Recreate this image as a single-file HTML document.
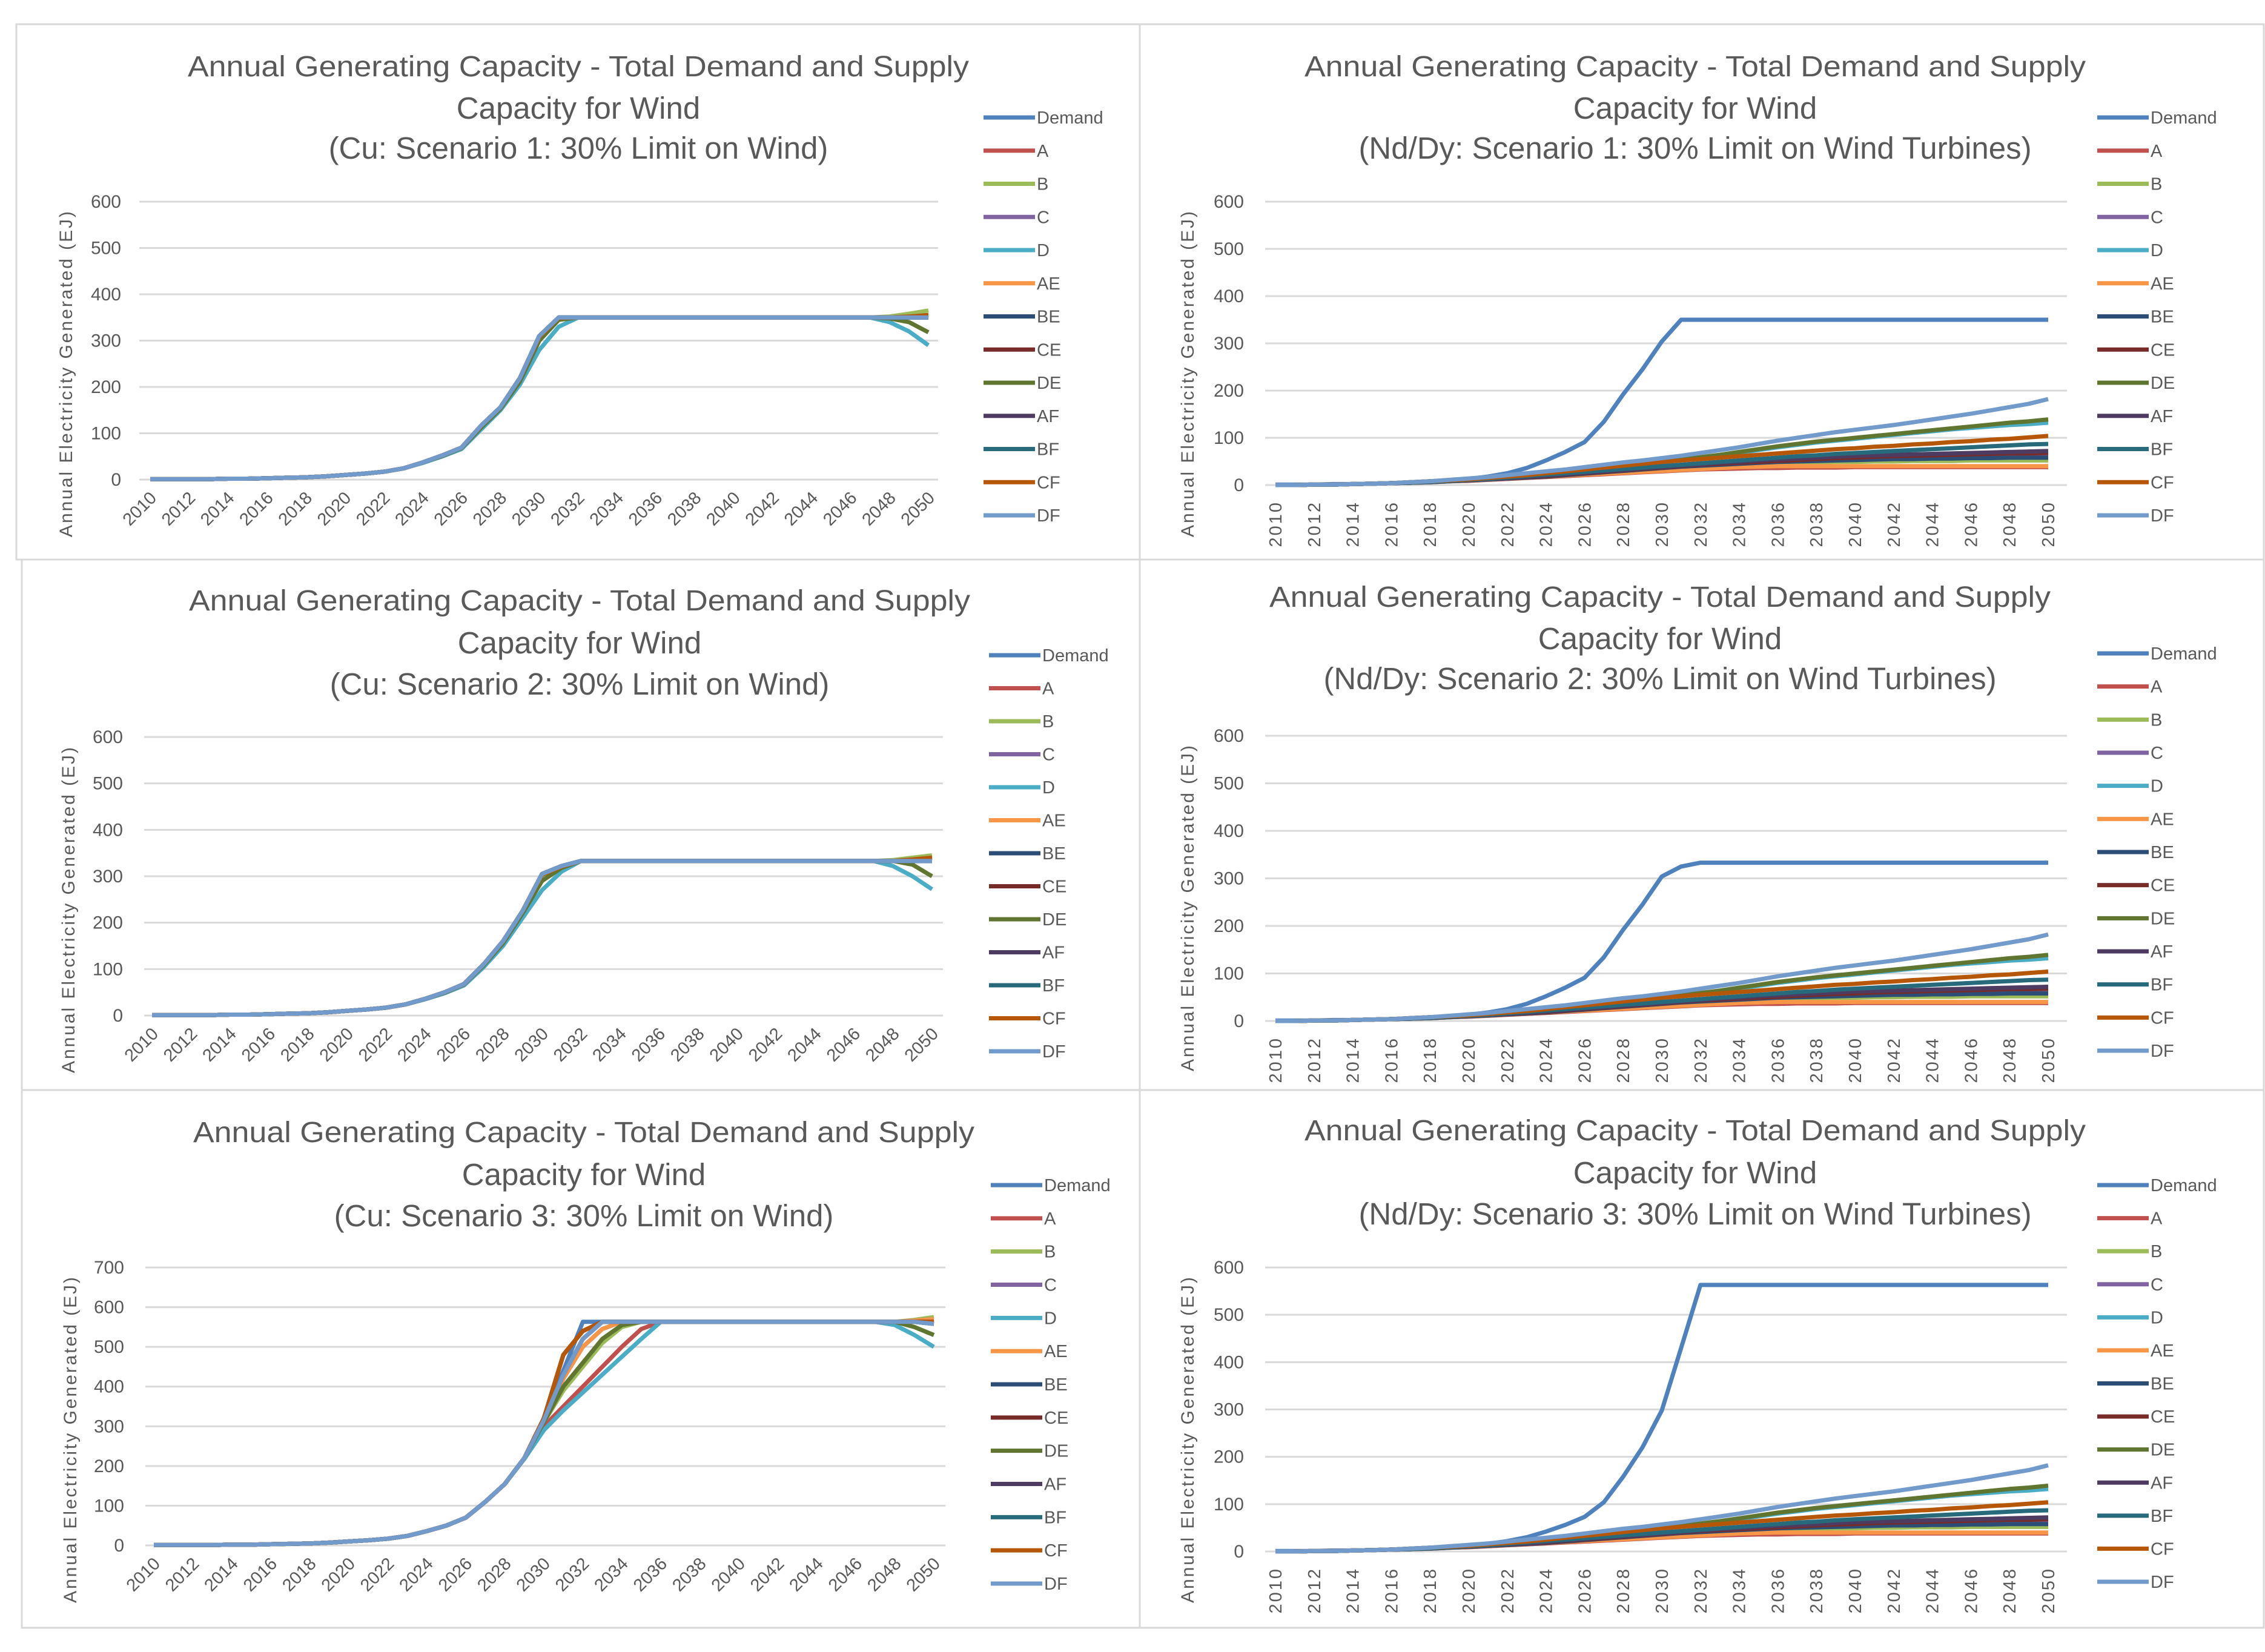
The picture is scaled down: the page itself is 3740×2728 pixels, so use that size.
<!DOCTYPE html>
<html><head><meta charset="utf-8">
<style>
html,body{margin:0;padding:0;background:#fff;}
svg{display:block;}
text{font-family:"Liberation Sans",sans-serif;fill:#595959;}
</style></head>
<body>
<svg id="root" xmlns="http://www.w3.org/2000/svg" width="3740" height="2728" viewBox="0 0 3740 2728"></svg>
<script>
// ---------- shared data ----------
const years = [];
for (let y = 2010; y <= 2050; y++) years.push(y);
const seriesNames = ["Demand","A","B","C","D","AE","BE","CE","DE","AF","BF","CF","DF"];
const seriesColors = ["#4F81BD","#C0504D","#9BBB59","#8064A2","#4BACC6","#F79646","#2C4D75","#772C2A","#5F7530","#4D3B62","#276A7C","#B65708","#729ACA"];

// ---- Cu scenario 1 (left top) ----
const cu1Demand = [1,1,1,1,2,2,3,4,5,7,10,13,17,24,37,52,69,116,156,219,310,350,350,350,350,350,350,350,350,350,350,350,350,350,350,350,350,350,350,350,350];
const cu1D  = [1,1,1,1,2,2,3,4,5,7,10,13,17,24,36,50,66,108,150,205,280,330,350,350,350,350,350,350,350,350,350,350,350,350,350,350,350,350,340,320,290];
const cu1DE = [1,1,1,1,2,2,3,4,5,7,10,13,17,24,37,51,68,112,153,212,300,345,350,350,350,350,350,350,350,350,350,350,350,350,350,350,350,350,348,340,318];
const cu1B  = [1,1,1,1,2,2,3,4,5,7,10,13,17,24,37,52,69,116,156,219,305,348,350,350,350,350,350,350,350,350,350,350,350,350,350,350,350,350,352,358,365];
const cu1CF = [1,1,1,1,2,2,3,4,5,7,10,13,17,24,37,52,69,116,156,219,308,349,350,350,350,350,350,350,350,350,350,350,350,350,350,350,350,350,350,352,355];

// ---- Cu scenario 2 (left middle) ----
const cu2Demand = [1,1,1,1,2,2,3,4,5,7,10,13,17,24,36,50,68,110,160,225,305,322,333,333,333,333,333,333,333,333,333,333,333,333,333,333,333,333,333,333,333];
const cu2D  = [1,1,1,1,2,2,3,4,5,7,10,13,17,24,35,48,65,104,150,210,270,310,333,333,333,333,333,333,333,333,333,333,333,333,333,333,333,333,322,300,272];
const cu2DE = [1,1,1,1,2,2,3,4,5,7,10,13,17,24,36,49,67,108,156,220,290,318,333,333,333,333,333,333,333,333,333,333,333,333,333,333,333,333,333,325,300];
const cu2B  = [1,1,1,1,2,2,3,4,5,7,10,13,17,24,36,50,68,110,160,225,300,320,333,333,333,333,333,333,333,333,333,333,333,333,333,333,333,333,335,340,345];
const cu2CF = [1,1,1,1,2,2,3,4,5,7,10,13,17,24,36,50,68,110,160,225,303,321,333,333,333,333,333,333,333,333,333,333,333,333,333,333,333,333,333,336,340];

// ---- Cu scenario 3 (left bottom) ----
const cu3Demand = [1,1,1,1,2,2,3,4,5,7,10,13,17,24,36,50,70,110,155,220,320,440,563,563,563,563,563,563,563,563,563,563,563,563,563,563,563,563,563,563,563];
const cu3A  = [1,1,1,1,2,2,3,4,5,7,10,13,17,24,36,50,70,110,155,220,300,350,400,450,500,545,563,563,563,563,563,563,563,563,563,563,563,563,563,563,563];
const cu3D  = [1,1,1,1,2,2,3,4,5,7,10,13,17,24,36,50,70,110,155,218,290,340,385,430,475,520,563,563,563,563,563,563,563,563,563,563,563,563,555,530,500];
const cu3DE = [1,1,1,1,2,2,3,4,5,7,10,13,17,24,36,50,70,110,155,220,310,400,460,520,555,563,563,563,563,563,563,563,563,563,563,563,563,563,563,550,530];
const cu3B  = [1,1,1,1,2,2,3,4,5,7,10,13,17,24,36,50,70,110,155,220,310,390,450,510,550,563,563,563,563,563,563,563,563,563,563,563,563,563,563,568,575];
const cu3C  = [1,1,1,1,2,2,3,4,5,7,10,13,17,24,36,50,70,110,155,220,315,420,500,545,563,563,563,563,563,563,563,563,563,563,563,563,563,563,563,566,570];
const cu3CF = [1,1,1,1,2,2,3,4,5,7,10,13,17,24,36,50,70,110,155,220,320,480,540,563,563,563,563,563,563,563,563,563,563,563,563,563,563,563,563,563,563];
const cu3DF = [1,1,1,1,2,2,3,4,5,7,10,13,17,24,36,50,70,110,155,220,315,430,520,563,563,563,563,563,563,563,563,563,563,563,563,563,563,563,563,563,558];

// ---- Nd/Dy demand (right panels) ----
const nd1Demand = [1,1,1,2,2,3,4,5,6,9,13,18,25,36,52,70,91,134,192,245,304,350,350,350,350,350,350,350,350,350,350,350,350,350,350,350,350,350,350,350,350];
const nd2Demand = [1,1,1,2,2,3,4,5,6,9,13,18,25,36,52,70,91,134,192,245,304,325,333,333,333,333,333,333,333,333,333,333,333,333,333,333,333,333,333,333,333];
const nd3Demand = [1,1,1,2,2,3,4,5,6,8,12,16,22,30,42,56,73,104,158,220,298,430,563,563,563,563,563,563,563,563,563,563,563,563,563,563,563,563,563,563,563];
// ---- Nd/Dy supply (shared by right panels) ----
const ndA  = [0,0,1,1,2,3,4,5,6,8,9,11,13,15,17,19,21,23,25,27,29,31,33,34,35,36,36,37,37,37,38,38,38,38,38,38,38,38,38,38,38];
const ndB  = [0,0,1,1,2,3,4,5,6,8,10,12,14,16,18,20,23,26,29,32,35,38,40,42,44,45,46,47,48,49,49,50,50,51,51,51,52,52,52,52,52];
const ndC  = [0,0,1,1,2,3,4,5,7,9,11,13,15,17,19,22,25,28,31,34,37,40,43,46,48,50,52,54,55,57,58,59,60,61,62,63,63,64,64,65,65];
const ndD  = [0,0,1,1,2,3,4,6,8,10,13,16,19,22,25,28,32,36,40,44,48,53,58,63,68,74,80,85,90,94,98,102,106,110,114,118,121,124,127,129,132];
const ndAE = [0,0,1,1,2,3,4,5,6,8,10,12,14,16,18,20,22,24,26,28,30,32,34,36,38,39,40,40,40,40,40,40,40,40,40,40,40,40,40,40,40];
const ndBE = [0,0,1,1,2,3,4,5,6,8,10,12,14,16,18,21,24,27,30,33,36,39,41,43,45,47,49,50,51,52,53,54,55,55,56,56,57,57,58,58,58];
const ndCE = [0,0,1,1,2,3,4,5,7,9,11,13,15,17,19,22,25,28,31,34,37,40,43,45,47,49,51,53,55,57,58,60,61,62,63,64,65,66,67,67,68];
const ndDE = [0,0,1,1,2,3,4,6,8,10,13,16,19,22,25,28,32,36,40,44,49,54,59,64,70,76,82,87,92,96,100,104,108,112,116,120,124,128,132,135,139];
const ndAF = [0,0,1,1,2,3,4,5,7,9,11,13,15,17,20,23,26,29,32,35,38,41,44,47,49,52,54,56,58,60,62,63,64,65,66,67,68,69,70,71,72];
const ndBF = [0,0,1,1,2,3,4,5,7,9,11,13,16,19,22,25,28,31,34,37,40,43,46,49,52,55,58,61,63,66,68,70,72,74,76,78,80,82,84,86,87];
const ndCF = [0,0,1,1,2,3,4,6,8,10,12,15,18,21,25,29,33,37,41,45,49,52,55,58,61,64,67,70,73,76,78,81,83,86,88,91,93,96,98,101,104];
const ndDF = [0,0,1,1,2,3,4,6,8,11,14,17,21,25,29,33,38,43,48,52,57,62,68,74,80,87,94,100,106,112,117,122,127,133,139,145,151,158,165,172,182];

const yTicks600 = [0,100,200,300,400,500,600];
const yTicks700 = [0,100,200,300,400,500,600,700];
const xTickYears = [2010,2012,2014,2016,2018,2020,2022,2024,2026,2028,2030,2032,2034,2036,2038,2040,2042,2044,2046,2048,2050];

const titleLine1 = "Annual Generating Capacity - Total Demand and Supply";
const titleLine2 = "Capacity for Wind";

const panels = [
 {name:"cu-scenario-1", box:[27,40,1885,924], plot:[230,1549], d0:248, d1:1533, yTop:333, yZero:792, yMax:600, ticks:yTicks600, tickR:200,
  title:"(Cu: Scenario 1: 30% Limit on Wind)", tcx:955, ty:[109,179,245], lx:1624, ly0:194, ly1:851, ytx:109, yty:618, rot:45,
  series:[cu1Demand,cu1CF,cu1B,cu1CF,cu1D,cu1Demand,cu1Demand,cu1Demand,cu1DE,cu1Demand,cu1Demand,cu1CF,cu1Demand]},
 {name:"nd-dy-scenario-1", box:[1882,40,3738,924], plot:[2089,3413], d0:2106, d1:3382, yTop:333, yZero:801, yMax:600, ticks:yTicks600, tickR:2054,
  title:"(Nd/Dy: Scenario 1: 30% Limit on Wind Turbines)", tcx:2799, ty:[109,179,245], lx:3463, ly0:194, ly1:851, ytx:1961, yty:618, rot:90,
  series:[nd1Demand,ndA,ndB,ndC,ndD,ndAE,ndBE,ndCE,ndDE,ndAF,ndBF,ndCF,ndDF]},
 {name:"cu-scenario-2", box:[36,924,1885,1801], plot:[238,1557], d0:251, d1:1539, yTop:1217, yZero:1677, yMax:600, ticks:yTicks600, tickR:203,
  title:"(Cu: Scenario 2: 30% Limit on Wind)", tcx:957, ty:[991,1062,1130], lx:1633, ly0:1082, ly1:1736, ytx:113, yty:1503, rot:45,
  series:[cu2Demand,cu2CF,cu2B,cu2CF,cu2D,cu2Demand,cu2Demand,cu2Demand,cu2DE,cu2Demand,cu2Demand,cu2CF,cu2Demand]},
 {name:"nd-dy-scenario-2", box:[1882,924,3738,1801], plot:[2089,3413], d0:2106, d1:3382, yTop:1215, yZero:1686, yMax:600, ticks:yTicks600, tickR:2054,
  title:"(Nd/Dy: Scenario 2: 30% Limit on Wind Turbines)", tcx:2741, ty:[985,1055,1121], lx:3463, ly0:1079, ly1:1735, ytx:1961, yty:1500, rot:90,
  series:[nd2Demand,ndA,ndB,ndC,ndD,ndAE,ndBE,ndCE,ndDE,ndAF,ndBF,ndCF,ndDF]},
 {name:"cu-scenario-3", box:[36,1800,1885,2688], plot:[240,1561], d0:254, d1:1542, yTop:2093, yZero:2552, yMax:700, ticks:yTicks700, tickR:205,
  title:"(Cu: Scenario 3: 30% Limit on Wind)", tcx:964, ty:[1869,1940,2008], lx:1636, ly0:1957, ly1:2615, ytx:116, yty:2378, rot:45,
  series:[cu3Demand,cu3A,cu3B,cu3C,cu3D,cu3C,cu3CF,cu3CF,cu3DE,cu3DF,cu3DF,cu3CF,cu3DF]},
 {name:"nd-dy-scenario-3", box:[1882,1800,3738,2688], plot:[2089,3413], d0:2106, d1:3382, yTop:2093, yZero:2562, yMax:600, ticks:yTicks600, tickR:2054,
  title:"(Nd/Dy: Scenario 3: 30% Limit on Wind Turbines)", tcx:2799, ty:[1866,1937,2005], lx:3463, ly0:1957, ly1:2612, ytx:1961, yty:2378, rot:90,
  series:[nd3Demand,ndA,ndB,ndC,ndD,ndAE,ndBE,ndCE,ndDE,ndAF,ndBF,ndCF,ndDF]}
];

const NS = "http://www.w3.org/2000/svg";
const root = document.getElementById("root");
function mk(tag, attrs, parent) {
  const e = document.createElementNS(NS, tag);
  for (const k in attrs) e.setAttribute(k, attrs[k]);
  parent.appendChild(e);
  return e;
}

panels.forEach(p => {
  const g = mk("g", {}, root);
  
  
  const xScale = yr => p.d0 + (yr - 2010) * (p.d1 - p.d0) / 40;
  const yScale = v => p.yZero - v * (p.yZero - p.yTop) / p.yMax;

  const border = mk("rect", {x:p.box[0], y:p.box[1], width:p.box[2]-p.box[0], height:p.box[3]-p.box[1], fill:"#fff", stroke:"#D9D9D9", "stroke-width":3}, g);
  
  

  const lines = [titleLine1, titleLine2, p.title];
  lines.forEach((t, i) => {
    const tx = mk("text", {x:p.tcx, y:p.ty[i] + 17, "text-anchor":"middle", "font-size": i === 0 ? 48 : 51}, g);
    if (i === 0) { tx.setAttribute("textLength", 1290); tx.setAttribute("lengthAdjust", "spacingAndGlyphs"); }
    tx.textContent = t;
    
    
  });

  p.ticks.forEach(v => {
    const ln = mk("line", {x1:p.plot[0], x2:p.plot[1], y1:yScale(v), y2:yScale(v), stroke:"#D9D9D9", "stroke-width":3}, g);
    
    
    const tl = mk("text", {x:p.tickR, y:yScale(v) + 10, "text-anchor":"end", "font-size":30}, g);
    tl.textContent = v;
    
    
  });

  xTickYears.forEach(yr => {
    const x = xScale(yr);
    let tl;
    if (p.rot === 45) {
      const ax = x + 12, ay = p.yZero + 32;
      tl = mk("text", {x:ax, y:ay, "text-anchor":"end", "font-size":29, transform:`rotate(-45 ${ax} ${ay})`}, g);
    } else {
      const ax = x + 10, ay = p.yZero + 26;
      tl = mk("text", {x:ax, y:ay, "text-anchor":"end", "font-size":29, "letter-spacing":3, transform:`rotate(-90 ${ax} ${ay})`}, g);
    }
    tl.textContent = yr;
    
    
  });

  const yt = mk("text", {x:p.ytx, y:p.yty, "text-anchor":"middle", "font-size":30, textLength:538, lengthAdjust:"spacing", transform:`rotate(-90 ${p.ytx} ${p.yty})`, dy:10}, g);
  yt.textContent = "Annual Electricity Generated (EJ)";
  
  

  p.series.forEach((vals, i) => {
    const pts = vals.map((v, j) => xScale(years[j]).toFixed(1) + "," + yScale(v).toFixed(1)).join(" ");
    const pl = mk("polyline", {points:pts, fill:"none", stroke:seriesColors[i], "stroke-width":7, "stroke-linejoin":"round"}, g);
    
    
  });

  const step = (p.ly1 - p.ly0) / 12;
  seriesNames.forEach((nm, i) => {
    const y = p.ly0 + i * step;
    const lg = mk("g", {}, g);
    
    
    mk("line", {x1:p.lx, x2:p.lx + 85, y1:y, y2:y, stroke:seriesColors[i], "stroke-width":7}, lg);
    const t = mk("text", {x:p.lx + 88, y:y + 10, "font-size":29}, lg);
    t.textContent = nm;
  });
});
</script>
</body></html>
